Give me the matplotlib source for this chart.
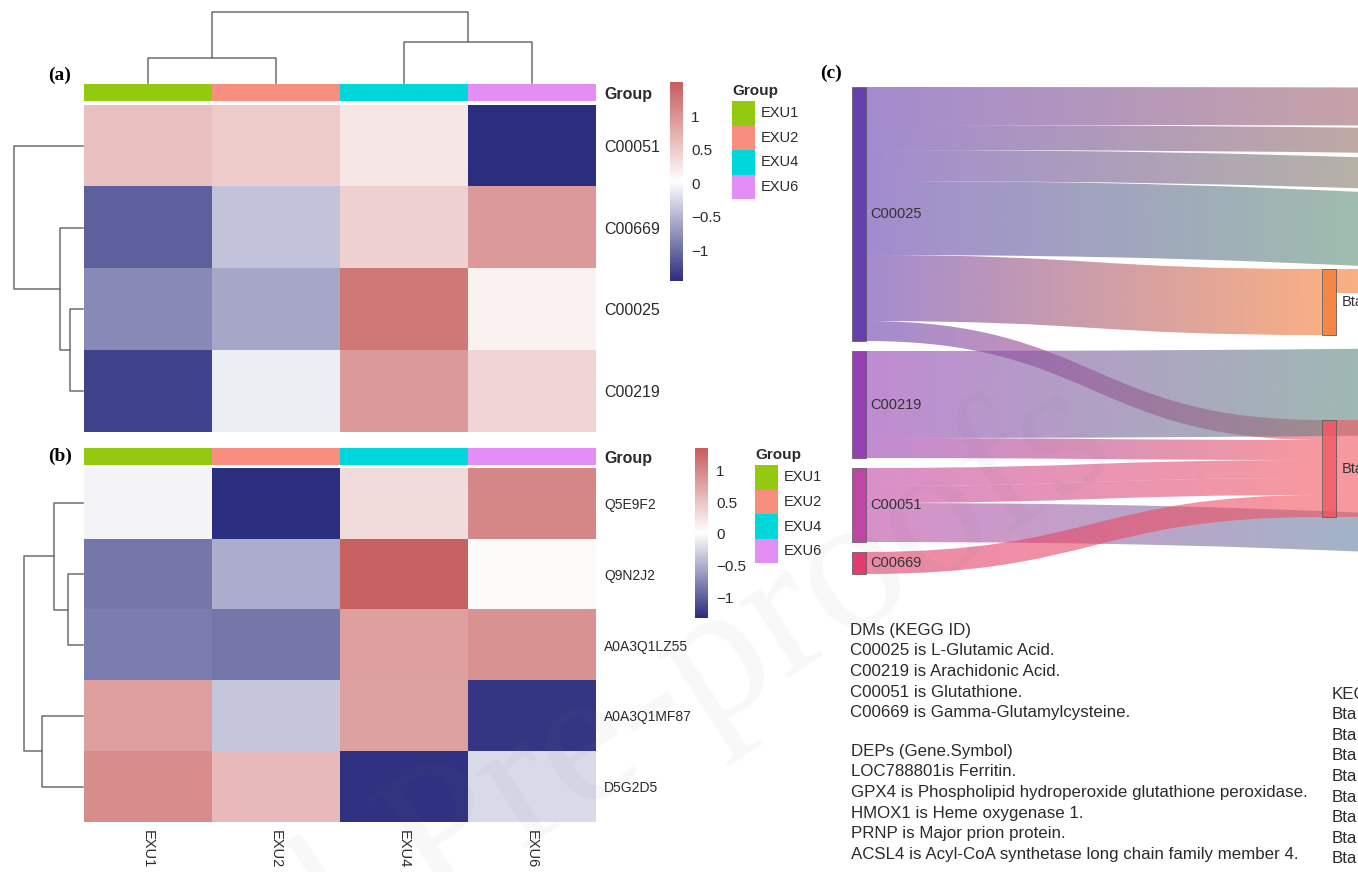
import numpy as np
import matplotlib
matplotlib.use('Agg')
import matplotlib.pyplot as plt
from matplotlib.colors import LinearSegmentedColormap, ListedColormap, to_rgba
from matplotlib.patches import Rectangle, PathPatch
from matplotlib.path import Path

plt.rcParams['font.family'] = ['Liberation Sans', 'DejaVu Sans']

W, H = 1358, 872

# ---- data -------------------------------------------------------------
samples = ['EXU1', 'EXU2', 'EXU4', 'EXU6']
group_colors = ['#93c90f', '#f88e7e', '#00d7db', '#e28ef4']

# (a) metabolites, row z-scores
dm_ids = ['C00051', 'C00669', 'C00025', 'C00219']
dm_z = np.array([
    [0.60, 0.50, 0.25, -1.45],
    [-1.10, -0.40, 0.45, 0.95],
    [-0.80, -0.60, 1.25, 0.15],
    [-1.30, -0.10, 0.95, 0.40],
])
dm_range = (-1.46, 1.51)
dm_col_merges = [(0, 1, 2.5), (2, 3, 4.1), (4, 5, 7.1)]
dm_row_merges = [(2, 3, 1.3), (1, 4, 2.3), (0, 5, 6.9)]

# (b) proteins, row z-scores
dep_ids = ['Q5E9F2', 'Q9N2J2', 'A0A3Q1LZ55', 'A0A3Q1MF87', 'D5G2D5']
dep_z = np.array([
    [-0.05, -1.30, 0.30, 1.00],
    [-0.85, -0.50, 1.30, 0.05],
    [-0.80, -0.85, 0.80, 0.90],
    [0.80, -0.35, 0.78, -1.25],
    [0.95, 0.58, -1.28, -0.22],
])
dep_range = (-1.32, 1.35)
dep_row_merges = [(1, 2, 1.5), (0, 5, 2.9), (3, 4, 4.1), (6, 7, 5.9)]

# (c) sankey links
dm_nodes = ['C00025', 'C00219', 'C00051', 'C00669']
mid_nodes = ['M1', 'M2']
link_src = ['C00025', 'C00025', 'C00025', 'C00025', 'C00025', 'C00025',
            'C00219', 'C00219', 'C00051', 'C00051', 'C00051', 'C00669',
            'M1', 'M2']
link_tgt = ['T1', 'T2', 'T3', 'T4', 'M1', 'M2',
            'T5', 'M2', 'M2', 'M2', 'T6', 'M2',
            'F1', 'F2']
link_val = [38, 25, 31, 74, 66, 20, 87, 20, 18, 17, 39, 22, 24, 97]
node_label = {'M1': 'Bta', 'M2': 'Bta'}

dm_notes = ['DMs (KEGG ID)', 'C00025 is L-Glutamic Acid.', 'C00219 is Arachidonic Acid.',
            'C00051 is Glutathione.', 'C00669 is Gamma-Glutamylcysteine.']
dep_notes = ['DEPs (Gene.Symbol)', 'LOC788801is Ferritin.',
             'GPX4 is Phospholipid hydroperoxide glutathione peroxidase.',
             'HMOX1 is Heme oxygenase 1.', 'PRNP is Major prion protein.',
             'ACSL4 is Acyl-CoA synthetase long chain family member 4.']
kegg_notes = ['KEGG'] + ['Bta'] * 8

# ---- styles -----------------------------------------------------------
cmap = LinearSegmentedColormap.from_list('hm', ['#2b2d7e', '#ffffff', '#c75c5c'])
dcol = '#6e6e6e'
tcol = '#2b2b2b'
node_color = {'C00025': '#663fae', 'C00219': '#963fb4', 'C00051': '#c046a6', 'C00669': '#e03c6e',
              'M1': '#f47a32', 'M2': '#f2545e',
              'T1': '#e18f26', 'T2': '#c5a71b', 'T3': '#a8c326', 'T4': '#55ed3e',
              'T5': '#21dc49', 'T6': '#00c59e', 'F1': '#f47a32', 'F2': '#f2545e'}

fig = plt.figure(figsize=(W / 100, H / 100), dpi=100)


def px_axes(x0, y0, x1, y1):
    ax = fig.add_axes([x0 / W, 1 - y1 / H, (x1 - x0) / W, (y1 - y0) / H])
    ax.set_facecolor('none')
    return ax


def dendro(ax, merges, n, orient):
    pos = {i: i + 0.5 for i in range(n)}
    hgt = {i: 0.0 for i in range(n)}
    for k, (a, b, h) in enumerate(merges):
        xs = [pos[a], pos[a], pos[b], pos[b]]
        ys = [hgt[a], h, h, hgt[b]]
        if orient == 'top':
            ax.plot(xs, ys, color=dcol, lw=1.1, clip_on=False)
        else:
            ax.plot(ys, xs, color=dcol, lw=1.1, clip_on=False)
        pos[n + k] = (pos[a] + pos[b]) / 2
        hgt[n + k] = h
    top = merges[-1][2]
    if orient == 'top':
        ax.set_xlim(0, n)
        ax.set_ylim(0, top)
    else:
        ax.set_xlim(top, 0)
        ax.set_ylim(n, 0)
    ax.axis('off')


def heat(box, z, rng, ids, row_fs, bottom_labels=False):
    ax = px_axes(*box)
    im = ax.imshow(z, cmap=cmap, vmin=rng[0], vmax=rng[1], aspect='auto', interpolation='nearest')
    ax.yaxis.tick_right()
    ax.set_yticks(range(len(ids)))
    ax.set_yticklabels(ids, fontsize=row_fs, color=tcol)
    ax.tick_params(axis='y', length=0, pad=6)
    if bottom_labels:
        ax.set_xticks(range(len(samples)))
        ax.set_xticklabels(samples, rotation=270, fontsize=10.5, color=tcol)
        ax.tick_params(axis='x', length=0, pad=6)
    else:
        ax.set_xticks([])
    for s in ax.spines.values():
        s.set_visible(False)
    return im


def group_bar(box):
    ax = px_axes(*box)
    ax.imshow(np.arange(len(samples))[None, :], cmap=ListedColormap(group_colors),
              aspect='auto', interpolation='nearest')
    ax.set_xticks([])
    ax.yaxis.tick_right()
    ax.set_yticks([0])
    ax.set_yticklabels(['Group'], fontsize=11.5, fontweight='bold', color=tcol)
    ax.tick_params(axis='y', length=0, pad=6)
    for s in ax.spines.values():
        s.set_visible(False)


def cbar(im, box):
    cax = px_axes(*box)
    cb = fig.colorbar(im, cax=cax)
    cb.outline.set_visible(False)
    cb.set_ticks([-1, -0.5, 0, 0.5, 1])
    cb.set_ticklabels(['\u22121', '\u22120.5', '0', '0.5', '1'])
    cax.tick_params(length=0, pad=6, labelsize=11, labelcolor=tcol)


# ---- panel (a) --------------------------------------------------------
dendro(px_axes(84, 12, 596, 83), dm_col_merges, 4, 'top')
group_bar((84, 84, 596, 101))
im_a = heat((84, 105, 596, 432), dm_z, dm_range, dm_ids, 11.5)
dendro(px_axes(14, 105, 83, 432), dm_row_merges, 4, 'left')
cbar(im_a, (670, 82, 683, 281))

# ---- panel (b) --------------------------------------------------------
group_bar((84, 448, 596, 465))
im_b = heat((84, 468, 596, 822), dep_z, dep_range, dep_ids, 10, bottom_labels=True)
dendro(px_axes(24, 468, 83, 822), dep_row_merges, 5, 'left')
cbar(im_b, (695, 448, 708, 618))

# ---- overlay: legends, sankey, notes ----------------------------------
ov = fig.add_axes([0, 0, 1, 1])
ov.set_facecolor('none')
ov.set_xlim(0, W)
ov.set_ylim(H, 0)
ov.axis('off')

for lx, ly in [(732, 101), (755, 465)]:
    ov.text(lx, ly - 3, 'Group', fontsize=11, fontweight='bold', color=tcol, ha='left', va='bottom')
    for i, (name, c) in enumerate(zip(samples, group_colors)):
        ov.add_patch(Rectangle((lx, ly + 24.6 * i), 23, 24.6, color=c, lw=0))
        ov.text(lx + 29, ly + 24.6 * (i + 0.5), name, fontsize=10.5, color=tcol, va='center')

ov.text(48, 75, '(a)', family='Liberation Serif', fontweight='bold', fontsize=14, va='center')
ov.text(48, 456, '(b)', family='Liberation Serif', fontweight='bold', fontsize=14, va='center')
ov.text(820, 73, '(c)', family='Liberation Serif', fontweight='bold', fontsize=14, va='center')

# sankey layout
left_x, mid_x, far_x = 852, 1322, 1900
node_w = 13.5
left_top, left_gap = 87, 10
mid_top = {'M1': 269, 'M2': 420}
far_top = {'T1': 88, 'T2': 131, 'T3': 166, 'T4': 205, 'F1': 272, 'T5': 346, 'F2': 425, 'T6': 524}

out_tot, in_tot = {}, {}
for s, t, v in zip(link_src, link_tgt, link_val):
    out_tot[s] = out_tot.get(s, 0) + v
    in_tot[t] = in_tot.get(t, 0) + v

ny, nx = {}, {}
y = left_top
for n in dm_nodes:
    ny[n] = y
    nx[n] = left_x
    y += out_tot[n] + left_gap
for n in mid_nodes:
    ny[n] = mid_top[n]
    nx[n] = mid_x
for n, v in far_top.items():
    ny[n] = v
    nx[n] = far_x

out_cur = dict(ny)
in_cur = dict(ny)


def ribbon(x0, a0, b0, x1, a1, b1, c0, c1):
    xm = (x0 + x1) / 2
    verts = [(x0, a0), (xm, a0), (xm, a1), (x1, a1), (x1, b1), (xm, b1), (xm, b0), (x0, b0), (x0, a0)]
    codes = [Path.MOVETO, Path.CURVE4, Path.CURVE4, Path.CURVE4, Path.LINETO,
             Path.CURVE4, Path.CURVE4, Path.CURVE4, Path.CLOSEPOLY]
    patch = PathPatch(Path(verts, codes), facecolor='none', edgecolor='none')
    ov.add_patch(patch)
    t = np.linspace(0, 1, 256)[:, None]
    ca, cb_ = np.array(to_rgba(c0)), np.array(to_rgba(c1))
    img = (1 - t) * ca + t * cb_
    img[:, 3] = 0.6
    im = ov.imshow(img[None, :, :], extent=(x0, x1, max(b0, b1) + 1, min(a0, a1) - 1),
                   aspect='auto', interpolation='bilinear', zorder=2)
    im.set_clip_path(patch)


for s, t, v in zip(link_src, link_tgt, link_val):
    a0 = out_cur[s]
    out_cur[s] += v
    a1 = in_cur[t]
    in_cur[t] += v
    ribbon(nx[s] + node_w, a0, a0 + v, nx[t], a1, a1 + v, node_color[s], node_color[t])

for n in dm_nodes:
    ov.add_patch(Rectangle((nx[n], ny[n]), node_w, out_tot[n], facecolor=node_color[n],
                           edgecolor='#555555', lw=0.5, zorder=3))
    ov.text(nx[n] + node_w + 5, ny[n] + out_tot[n] / 2, n, fontsize=10.5, color='#333333',
            va='center', zorder=4)
for n in mid_nodes:
    ov.add_patch(Rectangle((nx[n], ny[n]), node_w, in_tot[n], facecolor=node_color[n],
                           edgecolor='#555555', lw=0.6, alpha=0.9, zorder=3))
    ov.text(nx[n] + node_w + 6, ny[n] + in_tot[n] / 2, node_label[n], fontsize=10.5,
            color='#333333', va='center', zorder=4)

# notes under the sankey
for i, line in enumerate(dm_notes):
    ov.text(850, 630 + 20.7 * i, line, fontsize=12.2, color=tcol, va='center')
for i, line in enumerate(dep_notes):
    ov.text(851, 751 + 20.7 * i, line, fontsize=12.2, color=tcol, va='center')
for i, line in enumerate(kegg_notes):
    ov.text(1332, 694 + 20.6 * i, line, fontsize=12.2, color=tcol, va='center')

# watermark
ov.text(1120, 462, 'Journal Pre-proofs', rotation=33, rotation_mode='anchor', ha='right',
        va='baseline', fontsize=140, family='Liberation Serif', color='#777777', alpha=0.055,
        zorder=50)

ov.set_xlim(0, W)
ov.set_ylim(H, 0)

fig.savefig('out.png', dpi=100)
